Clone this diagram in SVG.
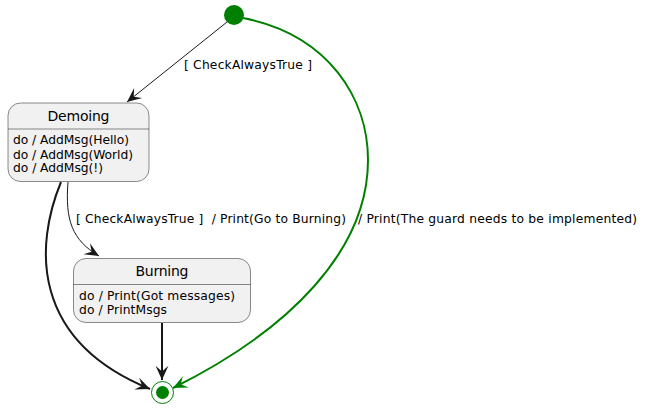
<svg xmlns="http://www.w3.org/2000/svg" width="645" height="410" viewBox="0 0 645 410">
<style>
text{font-family:"DejaVu Sans","Liberation Sans",sans-serif;fill:#000;white-space:pre}
.title{font-size:14px;text-anchor:middle}
.body{font-size:12.3px}
.lbl{font-size:12.3px}
.box{fill:#F1F1F1;stroke:#181818;stroke-width:0.5}
.div{stroke:#181818;stroke-width:0.5}
.thin{fill:none;stroke:#181818;stroke-width:1}
.thick{fill:none;stroke:#181818;stroke-width:2}
.green{fill:none;stroke:#008000;stroke-width:2}
</style>
<defs>
<marker id="ah" markerUnits="userSpaceOnUse" markerWidth="20" markerHeight="20" refX="0" refY="0" viewBox="-12 -6 14 12" orient="auto" overflow="visible">
<path d="M0,0 L-10,-4.5 L-6,0 L-10,4.5 Z" fill="#181818"/>
</marker>
<marker id="ahg" markerUnits="userSpaceOnUse" markerWidth="20" markerHeight="20" refX="0" refY="0" viewBox="-12 -6 14 12" orient="auto" overflow="visible">
<path d="M0,0 L-10,-4.5 L-6,0 L-10,4.5 Z" fill="#008000"/>
</marker>
</defs>
<g id="connectors">
<path class="thin" d="M227,22 L127,102" marker-end="url(#ah)"/>
<text class="lbl" x="184" y="69" textLength="128">[ CheckAlwaysTrue ]</text>
<path class="thin" d="M68,182 C65,220 72,240 99,256" marker-end="url(#ah)"/>
<text class="lbl" x="76" y="223" xml:space="preserve" textLength="270">[ CheckAlwaysTrue ]  / Print(Go to Burning)</text>
<path class="thick" d="M61,182 C35,245 30,340 150,389" marker-end="url(#ah)"/>
<path class="thick" d="M162,323 L162,380" marker-end="url(#ah)"/>
<path class="green" d="M243,18 C330,35 368,100 368,160 C368,250 290,330 173,388" marker-end="url(#ahg)"/>
<text class="lbl" x="358" y="223" textLength="279">/ Print(The guard needs to be implemented)</text>
</g>
<g id="initial">
<circle cx="234" cy="15" r="10" fill="#008000"/>
</g>
<g id="Demoing">
<rect class="box" x="8" y="103" width="141" height="78.5" rx="12.5" ry="12.5"/>
<line class="div" x1="8" y1="129" x2="149" y2="129"/>
<text class="title" x="78.5" y="121" textLength="62">Demoing</text>
<text class="body" x="13" y="144" textLength="116">do / AddMsg(Hello)</text>
<text class="body" x="13" y="158.5" textLength="120">do / AddMsg(World)</text>
<text class="body" x="13" y="172" textLength="90">do / AddMsg(!)</text>
</g>
<g id="Burning">
<rect class="box" x="73.5" y="258.5" width="177" height="64" rx="12.5" ry="12.5"/>
<line class="div" x1="73.5" y1="284.5" x2="250.5" y2="284.5"/>
<text class="title" x="162" y="276" textLength="53">Burning</text>
<text class="body" x="79" y="300" textLength="156">do / Print(Got messages)</text>
<text class="body" x="79" y="314" textLength="88">do / PrintMsgs</text>
</g>
<g id="final">
<circle cx="162.5" cy="392.5" r="11" fill="none" stroke="#008000" stroke-width="1"/>
<circle cx="162.5" cy="392.5" r="6.5" fill="#008000"/>
</g>
</svg>
